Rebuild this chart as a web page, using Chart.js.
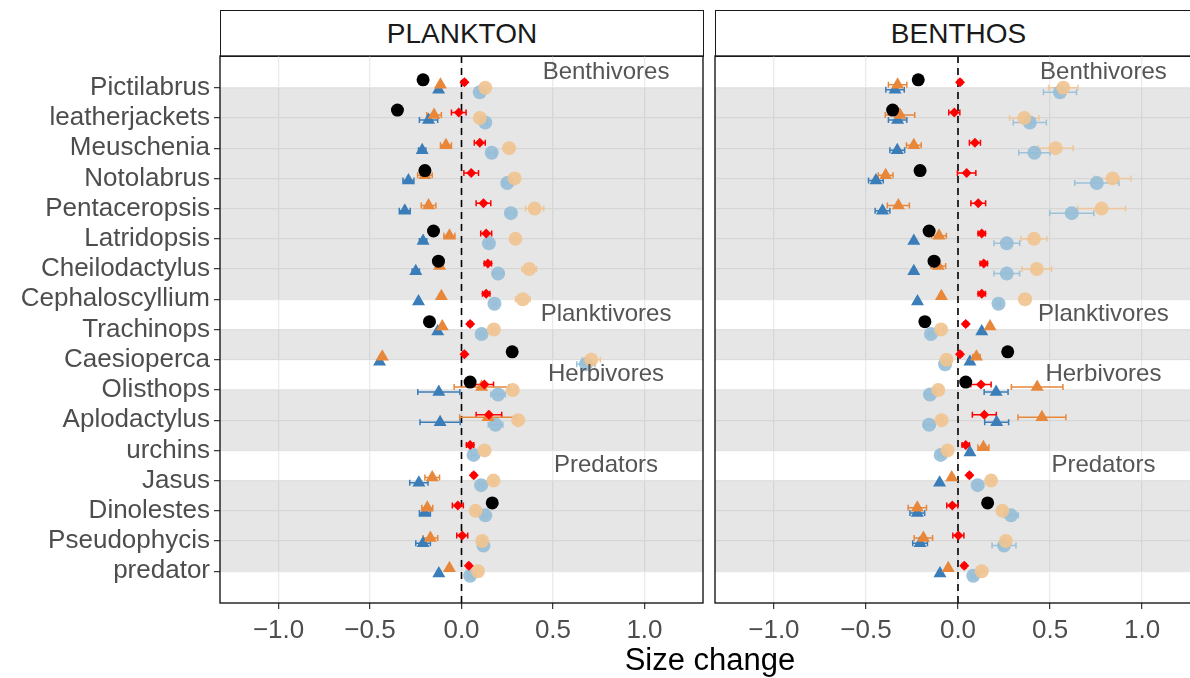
<!DOCTYPE html>
<html>
<head>
<meta charset="utf-8">
<script src="https://cdn.jsdelivr.net/npm/chart.js@4.4.1/dist/chart.umd.min.js"></script>
<style>
  body {
    margin: 0;
    width: 1190px;
    height: 678px;
    overflow: hidden;
    position: relative;
    background: #fff;
    font-family: "Liberation Sans", Arial, sans-serif;
  }
  canvas {
    position: absolute;
    top: 0;
  }
  .strip {
    position: absolute;
    top: 10px;
    height: 47px;
    box-sizing: border-box;
    border: 1.5px solid #1a1a1a;
    display: flex;
    align-items: center;
    justify-content: center;
    font-size: 28px;
    color: #1a1a1a;
    background: #fff;
  }
  #x-title {
    position: absolute;
    left: 460px;
    width: 500px;
    top: 642px;
    text-align: center;
    font-size: 31px;
    color: #000;
  }
</style>
</head>
<body>
<div class="strip" id="strip-plankton" style="left:220px;width:484px;">PLANKTON</div>
<div class="strip" id="strip-benthos" style="left:715px;width:487px;">BENTHOS</div>
<canvas id="chart-plankton" width="705" height="678" style="left:0"></canvas>
<canvas id="chart-benthos" width="500" height="678" style="left:705px"></canvas>
<div id="x-title">Size change</div>

<script>
const categories = [
  "Pictilabrus", "leatherjackets", "Meuschenia", "Notolabrus", "Pentaceropsis",
  "Latridopsis", "Cheilodactylus", "Cephaloscyllium", "Trachinops", "Caesioperca",
  "Olisthops", "Aplodactylus", "urchins", "Jasus", "Dinolestes", "Pseudophycis", "predator",
];
const xTicks = [-1, -0.5, 0, 0.5, 1];

// feeding groups (first / last category index of each shaded band)
const groupNames = ["Benthivores", "Planktivores", "Herbivores", "Predators"];
const groupFirst = [0, 8, 10, 13];
const groupLast = [7, 9, 12, 16];
const groupLabelX = 0.79;

// === PLANKTON ===
const plBlack = [-0.21, -0.35, null, -0.2, null, -0.153, -0.126, null, -0.175, 0.277, 0.047, null, null, null, 0.168, null, null];
const plRed = [0.016, -0.015, 0.1, 0.053, 0.12, 0.135, 0.144, 0.135, 0.047, 0.016, 0.125, 0.15, 0.047, 0.067, -0.02, 0.004, 0.04];
const plRedErr = [0.01, 0.04, 0.03, 0.04, 0.04, 0.03, 0.02, 0.02, 0.01, 0.01, 0.05, 0.07, 0.02, 0.01, 0.03, 0.03, 0.01];
const plOrange = [-0.115, -0.15, -0.085, -0.2, -0.18, -0.066, -0.12, -0.11, -0.105, -0.433, 0.11, 0.145, null, -0.16, -0.187, -0.17, -0.066];
const plOrangeErr = [0.01, 0.04, 0.03, 0.04, 0.04, 0.03, 0.02, 0.01, 0.01, 0.01, 0.15, 0.155, null, 0.04, 0.03, 0.04, 0.01];
const plTan = [0.13, 0.1, 0.26, 0.29, 0.4, 0.295, 0.37, 0.335, 0.177, 0.709, 0.28, 0.31, 0.126, 0.175, 0.077, 0.113, 0.09];
const plTanErr = [0.01, 0.01, 0.02, 0.02, 0.05, 0.01, 0.04, 0.04, 0.01, 0.05, 0.02, 0.02, 0.01, 0.01, 0.01, 0.01, 0.01];
const plBlue = [-0.125, -0.18, -0.215, -0.29, -0.31, -0.21, -0.25, -0.235, -0.13, -0.448, -0.124, -0.117, null, -0.233, -0.2, -0.21, -0.124];
const plBlueErr = [0.01, 0.05, 0.02, 0.03, 0.03, 0.02, 0.02, 0.01, 0.01, 0.01, 0.115, 0.11, null, 0.05, 0.03, 0.04, 0.01];
const plLightBlue = [0.1, 0.13, 0.165, 0.25, 0.27, 0.15, 0.2, 0.18, 0.11, 0.68, 0.2, 0.186, 0.066, 0.107, 0.13, 0.12, 0.047];
const plLightBlueErr = [0.01, 0.01, 0.02, 0.02, 0.02, 0.01, 0.03, 0.01, 0.01, 0.05, 0.04, 0.04, 0.01, 0.01, 0.01, 0.01, 0.01];

// === BENTHOS ===
const bnBlack = [-0.216, -0.355, null, -0.206, null, -0.157, -0.13, null, -0.18, 0.27, 0.042, null, null, null, 0.161, null, null];
const bnRed = [0.011, -0.02, 0.092, 0.047, 0.11, 0.129, 0.14, 0.129, 0.042, 0.011, 0.125, 0.143, 0.042, 0.062, -0.031, 0.002, 0.034];
const bnRedErr = [0.01, 0.03, 0.03, 0.05, 0.04, 0.02, 0.02, 0.02, 0.01, 0.01, 0.055, 0.065, 0.02, 0.01, 0.03, 0.03, 0.01];
const bnOrange = [-0.328, -0.315, -0.24, -0.393, -0.324, -0.103, -0.107, -0.09, 0.174, 0.1, 0.43, 0.456, 0.138, -0.034, -0.221, -0.188, -0.053];
const bnOrangeErr = [0.05, 0.08, 0.04, 0.04, 0.06, 0.04, 0.04, 0.01, 0.01, 0.02, 0.14, 0.13, 0.03, 0.01, 0.05, 0.05, 0.01];
const bnTan = [0.572, 0.36, 0.53, 0.84, 0.78, 0.413, 0.428, 0.364, -0.092, -0.062, -0.107, -0.089, -0.056, 0.18, 0.241, 0.26, 0.129];
const bnTanErr = [0.08, 0.08, 0.095, 0.1, 0.13, 0.07, 0.08, 0.03, 0.01, 0.01, 0.02, 0.01, 0.01, 0.01, 0.02, 0.02, 0.01];
const bnBlue = [-0.342, -0.328, -0.33, -0.446, -0.41, -0.24, -0.24, -0.22, 0.129, 0.065, 0.207, 0.21, 0.065, -0.1, -0.221, -0.206, -0.098];
const bnBlueErr = [0.05, 0.05, 0.04, 0.04, 0.04, 0.01, 0.01, 0.01, 0.01, 0.01, 0.065, 0.065, 0.01, 0.01, 0.04, 0.04, 0.01];
const bnLightBlue = [0.554, 0.39, 0.415, 0.754, 0.618, 0.265, 0.265, 0.22, -0.147, -0.07, -0.152, -0.157, -0.094, 0.107, 0.288, 0.25, 0.083];
const bnLightBlueErr = [0.09, 0.09, 0.085, 0.12, 0.12, 0.07, 0.07, 0.01, 0.01, 0.01, 0.03, 0.03, 0.01, 0.01, 0.04, 0.065, 0.01];

// look of each series, first one is drawn on top
const seriesStyle = [
  { name: "black", color: "#000000", shape: "circle", radius: 6.5, dodge: -0.26 },
  { name: "red", color: "#ff0000", shape: "rectRot", radius: 5, dodge: -0.18 },
  { name: "orange", color: "#e8873a", shape: "triangle", radius: 7.5, dodge: -0.1 },
  { name: "tan", color: "rgba(240,196,145,0.92)", shape: "circle", radius: 7, dodge: 0 },
  { name: "blue", color: "#3a7db9", shape: "triangle", radius: 7.5, dodge: 0.07 },
  { name: "lightblue", color: "rgba(150,190,215,0.92)", shape: "circle", radius: 7, dodge: 0.15 },
];

const axisFont = { family: "'Liberation Sans', Arial, sans-serif", size: 26 };
const axisColor = "#4d4d4d";
const gridColor = "#ebebeb";

const makeDatasets = (values, errors) =>
  seriesStyle.map((s, k) => ({
    label: s.name,
    data: values[k]
      .map((v, i) => (v === null ? null : { x: v, y: i + s.dodge, err: errors[k] ? errors[k][i] : null }))
      .filter((p) => p),
    pointStyle: s.shape,
    pointRadius: s.radius,
    backgroundColor: s.color,
    borderColor: s.color,
    borderWidth: 0,
  }));

// shaded bands, dashed zero line and error bars sit under the points
const panelUnder = {
  id: "panelUnder",
  beforeDatasetsDraw(chart) {
    const { ctx, chartArea, scales } = chart;
    const x = scales.x;
    const y = scales.y;
    ctx.save();
    ctx.beginPath();
    ctx.rect(chartArea.left, chartArea.top, chartArea.right - chartArea.left, chartArea.bottom - chartArea.top);
    ctx.clip();

    ctx.fillStyle = "rgba(128,128,128,0.2)";
    groupFirst.forEach((first, g) => {
      const top = y.getPixelForValue(first);
      const bottom = y.getPixelForValue(groupLast[g]);
      ctx.fillRect(chartArea.left, top, chartArea.right - chartArea.left, bottom - top);
    });

    const x0 = x.getPixelForValue(0);
    ctx.strokeStyle = "#000";
    ctx.lineWidth = 1.6;
    ctx.setLineDash([7, 5]);
    ctx.beginPath();
    ctx.moveTo(x0, chartArea.top);
    ctx.lineTo(x0, chartArea.bottom);
    ctx.stroke();
    ctx.setLineDash([]);

    ctx.lineWidth = 1.5;
    chart.data.datasets.forEach((ds) => {
      ctx.strokeStyle = ds.borderColor;
      ds.data.forEach((p) => {
        if (!p.err) return;
        const a = x.getPixelForValue(p.x - p.err);
        const b = x.getPixelForValue(p.x + p.err);
        const py = y.getPixelForValue(p.y);
        ctx.beginPath();
        ctx.moveTo(a, py);
        ctx.lineTo(b, py);
        ctx.moveTo(a, py - 3);
        ctx.lineTo(a, py + 3);
        ctx.moveTo(b, py - 3);
        ctx.lineTo(b, py + 3);
        ctx.stroke();
      });
    });
    ctx.restore();
  },
  afterDatasetsDraw(chart) {
    const { ctx, scales } = chart;
    ctx.save();
    ctx.fillStyle = "#555";
    ctx.font = "24px 'Liberation Sans', Arial, sans-serif";
    ctx.textAlign = "center";
    ctx.textBaseline = "middle";
    groupNames.forEach((name, g) => {
      ctx.fillText(name, scales.x.getPixelForValue(groupLabelX), scales.y.getPixelForValue(groupFirst[g] - 0.5));
    });
    ctx.restore();
  },
  afterDraw(chart) {
    const { ctx, chartArea } = chart;
    ctx.save();
    ctx.strokeStyle = "#1a1a1a";
    ctx.lineWidth = 1.4;
    ctx.strokeRect(chartArea.left, chartArea.top, chartArea.right - chartArea.left, chartArea.bottom - chartArea.top);
    ctx.restore();
  },
};

const createPanel = (canvasId, values, errors, showLabels, padding) =>
  new Chart(document.getElementById(canvasId), {
    type: "scatter",
    data: { datasets: makeDatasets(values, errors) },
    options: {
      responsive: false,
      animation: false,
      layout: { padding, autoPadding: false },
      plugins: {
        legend: { display: false },
        tooltip: { enabled: false },
      },
      scales: {
        x: {
          type: "linear",
          min: -1.32,
          max: 1.32,
          afterBuildTicks: (scale) => {
            scale.ticks = xTicks.map((v) => ({ value: v }));
          },
          afterFit: (scale) => {
            scale.height = 75;
          },
          ticks: {
            font: axisFont,
            color: axisColor,
            padding: 6,
            maxRotation: 0,
            callback: (v) => (v < 0 ? "\u2212" : "") + Math.abs(v).toFixed(1),
          },
          grid: {
            color: gridColor,
            lineWidth: 1.3,
            tickLength: 6,
            tickColor: "#333",
            tickWidth: 1.2,
          },
          border: { display: false },
        },
        y: {
          type: "linear",
          reverse: true,
          min: -1.05,
          max: 17.05,
          afterBuildTicks: (scale) => {
            scale.ticks = categories.map((c, i) => ({ value: i }));
          },
          afterFit: (scale) => {
            scale.width = showLabels ? 220 : 10;
          },
          ticks: {
            display: showLabels,
            font: axisFont,
            color: axisColor,
            padding: 4,
            autoSkip: false,
            callback: (v) => categories[v],
          },
          grid: {
            color: gridColor,
            lineWidth: 1.3,
            drawTicks: showLabels,
            tickLength: 6,
            tickColor: "#333",
            tickWidth: 1.2,
          },
          border: { display: false },
        },
      },
    },
    plugins: [panelUnder],
  });

createPanel(
  "chart-plankton",
  [plBlack, plRed, plOrange, plTan, plBlue, plLightBlue],
  [null, plRedErr, plOrangeErr, plTanErr, plBlueErr, plLightBlueErr],
  true,
  { top: 56, right: 2, left: 0, bottom: 0 }
);

createPanel(
  "chart-benthos",
  [bnBlack, bnRed, bnOrange, bnTan, bnBlue, bnLightBlue],
  [null, bnRedErr, bnOrangeErr, bnTanErr, bnBlueErr, bnLightBlueErr],
  false,
  { top: 56, right: 4, left: 0, bottom: 0 }
);
</script>
</body>
</html>
